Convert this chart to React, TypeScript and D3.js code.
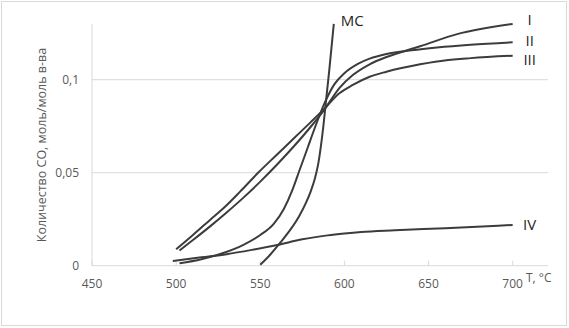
import React from 'react';
import * as d3 from 'd3';

// values (T in °C, CO in mol/mol)
const tI = [502, 510, 520, 530, 540, 550, 560, 570, 580, 588, 597, 605, 615, 625, 635, 645, 667, 700];
const coI = [0.0082, 0.0138, 0.021, 0.0286, 0.0366, 0.0452, 0.0544, 0.0642, 0.0747, 0.0838, 0.0955, 0.1025, 0.1083, 0.1122, 0.1152, 0.118, 0.1245, 0.13];

const tII = [502, 515, 528, 540, 550, 558, 564, 569, 573, 578, 583, 588, 594, 600, 608, 615, 625, 640, 655, 675, 700];
const coII = [0.0013, 0.0035, 0.0068, 0.0112, 0.0165, 0.0225, 0.0305, 0.0405, 0.0505, 0.063, 0.0755, 0.087, 0.0975, 0.1035, 0.1085, 0.1113, 0.1138, 0.1158, 0.1173, 0.1188, 0.1201];

const tIII = [500, 510, 520, 530, 538, 549, 560, 570, 580, 588, 597, 605, 615, 625, 645, 654, 675, 700];
const coIII = [0.0088, 0.0165, 0.0245, 0.0325, 0.0398, 0.0502, 0.0598, 0.0685, 0.0772, 0.0843, 0.0927, 0.0972, 0.1016, 0.1043, 0.1083, 0.1097, 0.1116, 0.1129];

const tIV = [498, 515, 530, 545, 560, 575, 590, 600, 610, 630, 660, 700];
const coIV = [0.0025, 0.0045, 0.0062, 0.0085, 0.0111, 0.0142, 0.0163, 0.0173, 0.0181, 0.019, 0.0202, 0.0219];

const tMC = [550, 556, 562, 568, 573, 577, 580, 582.5, 584.5, 586, 587.5, 589, 591, 593.7];
const coMC = [0.0005, 0.006, 0.0125, 0.0195, 0.0265, 0.0335, 0.04, 0.047, 0.055, 0.064, 0.075, 0.088, 0.105, 0.13];

const seriesNames = ['I', 'II', 'III', 'IV', 'MC'];
const xTicks = [450, 500, 550, 600, 650, 700];
const yTicks = [0, 0.05, 0.1];
const yTitle = 'Количество CO, моль/моль в-ва';
const xTitle = 'T, °C';

const W = 569;
const H = 328;
const font = '"Open Sans", "Noto Sans", sans-serif';
const axisGray = '#d9d9d9';
const textGray = '#595959';
const lineColor = '#3c3c3c';

const fmt = d3.formatLocale({ decimal: ',', thousands: ' ', grouping: [3], currency: ['', ''] }).format('~g');

export default function App() {
  const x = d3.scaleLinear().domain([450, 721]).range([92, 548]);
  const y = d3.scaleLinear().domain([0, 0.13]).range([265.7, 23.9]);

  const line = d3
    .line<[number, number]>()
    .x(d => x(d[0]))
    .y(d => y(d[1]))
    .curve(d3.curveMonotoneX);

  const series = [
    { name: seriesNames[0], pts: tI.map((t, i) => [t, coI[i]] as [number, number]), dx: 17, dy: -4 },
    { name: seriesNames[1], pts: tII.map((t, i) => [t, coII[i]] as [number, number]), dx: 17, dy: -2 },
    { name: seriesNames[2], pts: tIII.map((t, i) => [t, coIII[i]] as [number, number]), dx: 17, dy: 4 },
    { name: seriesNames[3], pts: tIV.map((t, i) => [t, coIV[i]] as [number, number]), dx: 17, dy: 0 },
    { name: seriesNames[4], pts: tMC.map((t, i) => [t, coMC[i]] as [number, number]), dx: 7, dy: -3 }
  ];

  return (
    <svg width={W} height={H} style={{ position: 'absolute', left: 0, top: 0, background: '#fff' }}>
      <rect x={1.5} y={1.5} width={565} height={324} fill="#fff" stroke={axisGray} />

      {/* gridlines */}
      {yTicks.slice(1).map(v => (
        <line key={v} x1={x(450)} x2={548} y1={y(v)} y2={y(v)} stroke={axisGray} />
      ))}
      {/* axes */}
      <line x1={x(450)} x2={x(450)} y1={y(0.13)} y2={y(0)} stroke={axisGray} />
      <line x1={x(450)} x2={548} y1={y(0)} y2={y(0)} stroke={axisGray} />
      {xTicks.map(v => (
        <line key={v} x1={x(v)} x2={x(v)} y1={y(0)} y2={y(0) - 5} stroke={axisGray} />
      ))}

      {/* tick labels */}
      {xTicks.map(v => (
        <text key={v} x={x(v)} y={288} textAnchor="middle" fontFamily={font} fontSize={12} fill={textGray}>
          {v}
        </text>
      ))}
      {yTicks.map(v => (
        <text key={v} x={79} y={y(v)} dy="0.35em" textAnchor="end" fontFamily={font} fontSize={12} fill={textGray}>
          {fmt(v)}
        </text>
      ))}
      <text x={526} y={282} fontFamily={font} fontSize={12} fill={textGray}>
        {xTitle}
      </text>
      <text
        transform="translate(45.5,145) rotate(-90)"
        textAnchor="middle"
        fontFamily={font}
        fontSize={12.5}
        fill={textGray}
      >
        {yTitle}
      </text>

      {/* curves */}
      {series.map(s => (
        <path key={s.name} d={line(s.pts) || ''} fill="none" stroke={lineColor} strokeWidth={2} />
      ))}
      {series.map(s => {
        const last = s.pts[s.pts.length - 1];
        const isMC = s.name === 'MC';
        return (
          <text
            key={s.name}
            x={x(last[0]) + s.dx}
            y={y(last[1]) + s.dy}
            dy="0.35em"
            textAnchor={isMC ? 'start' : 'middle'}
            fontFamily={font}
            fontSize={15}
            fill="#262626"
          >
            {s.name}
          </text>
        );
      })}
    </svg>
  );
}
